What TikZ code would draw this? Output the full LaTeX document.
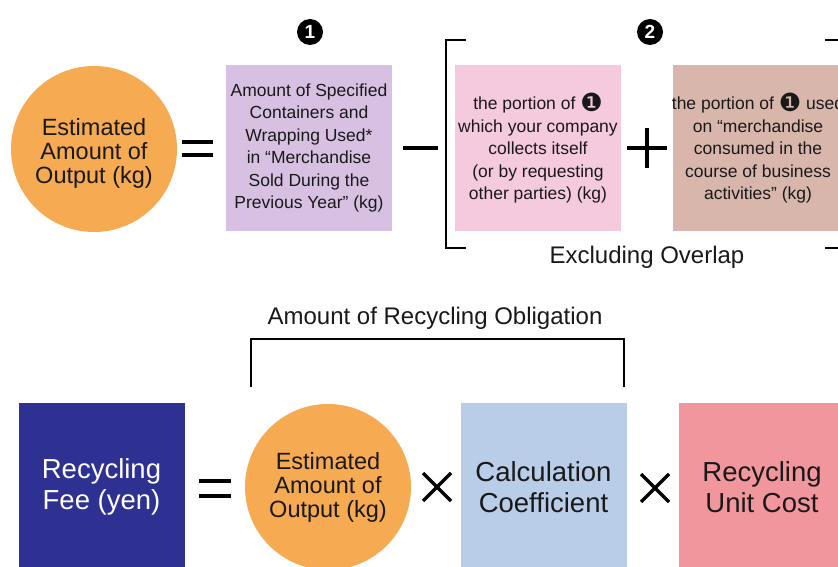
\documentclass[tikz,border=0pt]{standalone}
\usepackage{fontspec}
\setmainfont{Liberation Sans}
\newfontfamily\dejavu{DejaVu Sans}
\definecolor{orangeC}{RGB}{246,170,82}
\definecolor{lilac}{RGB}{216,192,226}
\definecolor{pinkC}{RGB}{246,202,222}
\definecolor{brownC}{RGB}{216,182,172}
\definecolor{navyC}{RGB}{46,49,146}
\definecolor{blueC}{RGB}{186,205,232}
\definecolor{redC}{RGB}{242,150,158}
\definecolor{txt}{RGB}{25,25,25}
\newcommand{\cone}{{\dejavu\fontsize{25}{22}\selectfont\raisebox{-1.5pt}{\char"2776}}}
\tikzset{
  box/.style={draw=none, minimum width=166pt, minimum height=166pt, inner sep=0pt, align=center, text=txt},
  circ/.style={circle, fill=orangeC, minimum size=166pt, inner sep=0pt, align=center, text=txt,
     font=\fontsize{23.5}{24}\selectfont},
  small/.style={font=\fontsize{17.5}{22.4}\selectfont},
  big/.style={font=\fontsize{27.5}{31}\selectfont},
  num/.style={circle, fill=black, text=white, minimum size=26pt, inner sep=0pt, font=\fontsize{19}{19}\selectfont\bfseries},
  op/.style={line width=4pt, black},
  brk/.style={line width=2.6pt, black},
  lbl/.style={font=\fontsize{24}{26}\selectfont, text=txt}
}
\begin{document}
\begin{tikzpicture}[x=1pt,y=-1pt]
\useasboundingbox (0,0) rectangle (838,567);
\clip (0,0) rectangle (838,567);
\fill[white] (0,0) rectangle (838,567);
% top row
\node[circ] (est1) at (94,149) {};
\node[text=txt, align=center, font=\fontsize{23.5}{24}\selectfont] (est1t) at (94,153) {Estimated\\Amount of\\Output (kg)};
\draw[op] (182,142) -- (213,142) (182,155) -- (213,155);
\node[box, fill=lilac, small] (spec) at (309,148) {Amount of Specified\\Containers and\\Wrapping Used*\\in “Merchandise\\Sold During the\\Previous Year” (kg)};
\node[num] (n1) at (310,32) {1};
\draw[op] (403,148) -- (438,148);
\draw[brk] (466,40) -- (446,40) -- (446,248) -- (466,248);
\draw[brk] (825,40) -- (840,40) (825,248) -- (840,248);
\node[box, fill=pinkC, small] (self) at (538,148) {};
\node[small, text=txt, align=center] (selft) at (538,148) {the portion of \cone\\which your company\\collects itself\\(or by requesting\\other parties) (kg)};
\draw[op] (627,148) -- (667,148) (647,128) -- (647,168);
\node[box, fill=brownC, small] (biz) at (756,148) {};
\node[small, text=txt, align=center] (bizt) at (758,148) {the portion of \cone{} used\\on “merchandise\\consumed in the\\course of business\\activities” (kg)};
\node[num] (n2) at (650,32) {2};
\node[lbl] (excl) at (647,257) {Excluding Overlap};
% bottom row
\node[lbl] (oblig) at (435,318) {Amount of Recycling Obligation};
\draw[brk] (251,387) -- (251,339) -- (624,339) -- (624,387);
\node[box, fill=navyC, minimum height=180pt, anchor=north] (fee) at (101.5,403) {};
\node[white, big, align=center] (feet) at (101.5,487) {Recycling\\Fee (yen)};
\draw[op] (199,481) -- (231,481) (199,496) -- (231,496);
\node[circ] (est2) at (328,487) {Estimated\\Amount of\\Output (kg)};
\draw[op, line width=3.5pt] (423,473) -- (451,501) (423,501) -- (451,473);
\node[box, fill=blueC, minimum height=180pt, anchor=north] (coef) at (543.5,403) {};
\node[big, text=txt, align=center] (coeft) at (543.5,487) {Calculation\\Coefficient};
\draw[op, line width=3.5pt] (641,474) -- (669,502) (641,502) -- (669,474);
\node[box, fill=redC, minimum height=180pt, anchor=north] (unit) at (762,403) {};
\node[big, text=txt, align=center] (unitt) at (762,487) {Recycling\\Unit Cost};
\end{tikzpicture}
\end{document}
